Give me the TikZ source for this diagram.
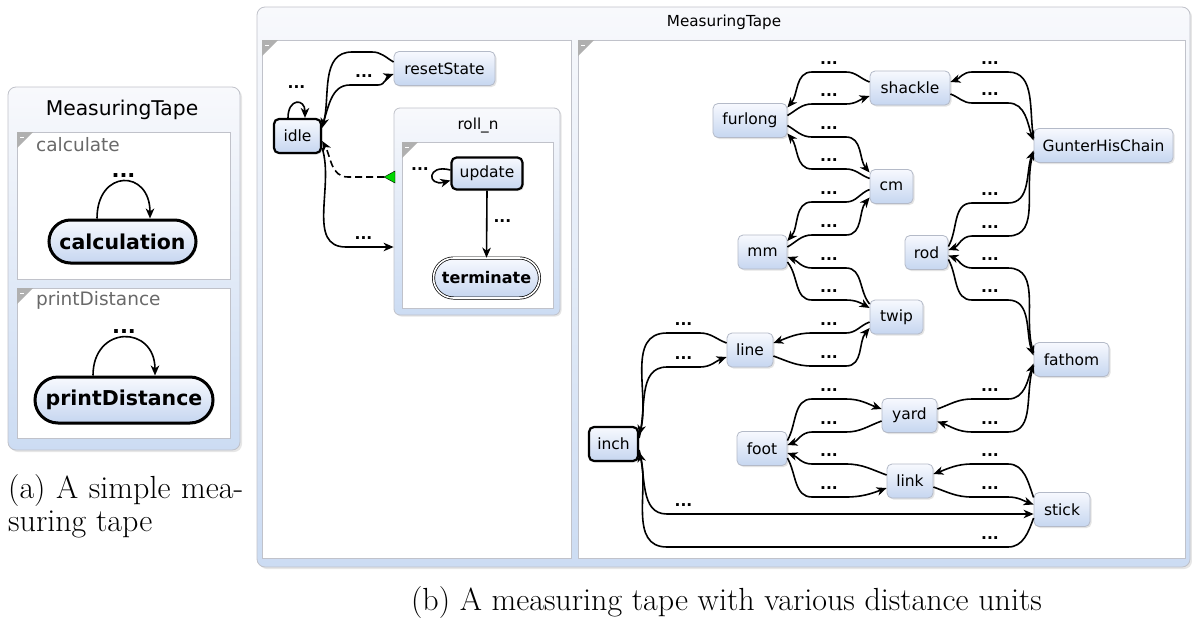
\documentclass[tikz,border=0pt]{standalone}
\usepackage{fontspec}
\newfontfamily\dv{DejaVu Sans}
\usetikzlibrary{arrows.meta,shadows,shapes.misc}
\definecolor{nodetop}{RGB}{247,249,254}
\definecolor{nodebot}{RGB}{198,214,240}
\definecolor{nodeborder}{RGB}{180,186,200}
\definecolor{regborder}{RGB}{192,194,202}
\definecolor{cornergray}{RGB}{176,176,176}
\definecolor{pantop}{RGB}{248,249,252}
\definecolor{panbot}{RGB}{204,220,243}
\definecolor{hgreen}{RGB}{0,215,0}
\definecolor{lblgray}{RGB}{105,105,105}
\newcommand\regcorner[2]{%
  \fill[cornergray] (#1,#2) -- ++(16,0) -- ++(-16,-16) -- cycle;
  \draw[white,line width=1pt] (#1+3,#2-5) -- ++(4,0);}
\tikzset{
  st/.style={rectangle, rounded corners=5pt, draw=nodeborder, line width=0.8pt,
    top color=nodetop, bottom color=nodebot, minimum height=34pt, inner sep=2pt,
    font=\dv\fontsize{15.5}{17}\selectfont,
    drop shadow={shadow xshift=1.5pt, shadow yshift=-1.5pt, opacity=0.22}},
  init/.style={draw=black, line width=2.2pt},
  tr/.style={-{Stealth[length=10pt,width=8.5pt,inset=3pt]}, line width=1.6pt, black},
  dd/.style={font=\dv\bfseries\fontsize{15.5}{17}\selectfont, inner sep=0pt, above=6.5pt},
  region/.style={draw=regborder, fill=white, line width=0.8pt},
  panel/.style={draw=regborder, rounded corners=8pt, top color=pantop, bottom color=panbot,
    line width=0.8pt, drop shadow={shadow xshift=2pt, shadow yshift=-2pt, opacity=0.2}},
}
\begin{document}
\begin{tikzpicture}[x=1pt,y=1pt]
\useasboundingbox (0,0) rectangle (1192,-619);

% ---------------- panel (a) ----------------
\draw[panel] (8,-87) rectangle (240,-450);
\node[font=\dv\fontsize{20.3}{23}\selectfont] (ttla) at (122,-110) {MeasuringTape};
\draw[region] (17,-132) rectangle (230,-279);
\regcorner{17}{-132}
\node[anchor=west, inner sep=0, text=lblgray, font=\dv\fontsize{18.5}{20}\selectfont] (lcalc) at (36,-145) {calculate};
\draw[region] (17,-288) rectangle (230,-438);
\regcorner{17}{-288}
\node[anchor=west, inner sep=0, text=lblgray, font=\dv\fontsize{18.5}{20}\selectfont] (lprint) at (36,-300) {printDistance};

\node[st, rounded rectangle, sharp corners, draw=black, line width=3pt, minimum width=151pt, minimum height=43pt,
  font=\dv\bfseries\fontsize{20.5}{22}\selectfont] (calc) at (122.5,-241.5) {calculation};
\draw[tr] ([xshift=-25.5pt]calc.north) to[out=90,in=90,looseness=2.4]
  node[font=\dv\bfseries\fontsize{21}{22}\selectfont, inner sep=0pt, above=3pt] {...} ([xshift=27.5pt]calc.north);

\node[st, rounded rectangle, sharp corners, draw=black, line width=3pt, minimum width=182pt, minimum height=46pt,
  font=\dv\bfseries\fontsize{20.5}{22}\selectfont] (pd) at (124,-400) {printDistance};
\draw[tr] ([xshift=-31pt]pd.north) to[out=90,in=90,looseness=2.1]
  node[font=\dv\bfseries\fontsize{21}{22}\selectfont, inner sep=0pt, above=3pt] {...} ([xshift=31pt]pd.north);

\node[anchor=north west, inner sep=0pt, font=\fontsize{32}{33}\selectfont, align=left] (capa) at (8,-474)
  {\makebox[235pt][s]{(a) A simple mea-}\\suring tape};

% ---------------- panel (b) ----------------
\draw[panel] (257,-7) rectangle (1190,-567);
\node[font=\dv\fontsize{15.2}{17}\selectfont] (ttlb) at (724,-22) {MeasuringTape};
\draw[region] (262,-40) rectangle (571,-558);
\regcorner{262}{-40}
\draw[region] (578,-40) rectangle (1185,-558);
\regcorner{578}{-40}

% left region
\node[rectangle, rounded corners=6pt, draw=regborder, line width=0.8pt, top color=pantop, bottom color=panbot,
  minimum width=166pt, minimum height=207pt, inner sep=0pt,
  drop shadow={shadow xshift=1.5pt, shadow yshift=-1.5pt, opacity=0.2}] (rolln) at (477,-211.5) {};
\node[font=\dv\fontsize{15.2}{17}\selectfont] (rollttl) at (478,-126) {roll\_n};
\draw[region] (402,-142) rectangle (553,-308);
\regcorner{402}{-142}

\node[st, init, minimum width=47pt] (idle) at (297.5,-136) {idle};
\node[st, minimum width=101pt] (reset) at (444.5,-68.5) {resetState};
\node[st, init, minimum width=71pt, minimum height=32pt] (update) at (487,-173.5) {update};
\node[st, rounded rectangle, sharp corners, draw=black, line width=0.7pt, double=white, double distance=1.6pt,
  minimum width=110pt, minimum height=40pt, font=\dv\bfseries\fontsize{16}{17}\selectfont] (term) at (486.5,-278) {terminate};

\coordinate (histtip) at (384,-177);
\fill[hgreen, draw=black, line width=0.4pt] (histtip) -- (395,-171) -- (395,-183) -- cycle;

\draw[tr] ([yshift=6.5pt]reset.west) to[out=150,in=0] (372,-52) -- (352,-52) to[out=180,in=75] ([yshift=8pt]idle.east);
\draw[tr] ([yshift=10pt]idle.east) to[out=70,in=180] (350,-85) -- node[dd]{...} (378,-85) to[out=0,in=200] ([yshift=-5.5pt]reset.west);
\draw[tr, dash pattern=on 7pt off 4pt] (histtip) -- (348,-177) to[out=180,in=-60] ([yshift=-5pt]idle.east);
\draw[tr] ([yshift=-12pt]idle.east) to[out=-72,in=180] (346,-247) -- node[dd]{...} (381,-247) -- ([yshift=-35.5pt]rolln.west);
\draw[tr] ([xshift=-9.5pt]idle.north) to[out=90,in=90,looseness=3] node[dd, above=7pt]{...} ([xshift=7.5pt]idle.north);
\draw[tr] ([yshift=3.5pt]update.west) to[out=165,in=195,looseness=6] node[dd, above=0pt, left=3pt]{...} ([yshift=-7pt]update.west);
\draw[tr] (update.south) -- node[dd, above=0pt, right=6pt, pos=0.55]{...} (term.north);

% right region
\node[st, minimum width=74pt] (furlong) at (750,-120.5) {furlong};
\node[st, minimum width=80pt] (shackle) at (910,-88) {shackle};
\node[st, minimum width=139pt] (gunter) at (1103.5,-145.5) {GunterHisChain};
\node[st, minimum width=43pt] (cm) at (891.5,-186.5) {cm};
\node[st, minimum width=49pt] (mm) at (762.5,-252) {mm};
\node[st, minimum width=43pt] (rod) at (926.5,-252.5) {rod};
\node[st, minimum width=53pt] (twip) at (896.5,-317) {twip};
\node[st, minimum width=46pt] (line) at (750,-350) {line};
\node[st, minimum width=75pt] (fathom) at (1071.5,-359.5) {fathom};
\node[st, minimum width=55pt] (yard) at (909.5,-415.5) {yard};
\node[st, minimum width=50pt] (foot) at (762,-448.5) {foot};
\node[st, minimum width=46pt] (link) at (910,-481) {link};
\node[st, minimum width=56pt] (stick) at (1062,-509.5) {stick};
\node[st, init, minimum width=49pt] (inch) at (613.5,-444) {inch};

% left column
\draw[tr] ([yshift=6pt]shackle.west) to[out=160,in=0] (846,-72) -- node[dd]{...} (812,-72) to[out=180,in=50] ([yshift=13pt]furlong.east);
\draw[tr] ([yshift=5pt]furlong.east) to[out=30,in=180] (812,-104) -- node[dd]{...} (846,-104) to[out=0,in=200] ([yshift=-8pt]shackle.west);
\draw[tr] ([yshift=-5pt]furlong.east) to[out=-30,in=180] (812,-137) -- node[dd]{...} (846,-137) to[out=0,in=130] ([yshift=14pt]cm.west);
\draw[tr] ([yshift=8pt]cm.west) to[out=160,in=0] (846,-169) -- node[dd]{...} (812,-169) to[out=180,in=-50] ([yshift=-13pt]furlong.east);
\draw[tr] ([yshift=-3pt]cm.west) to[out=200,in=0] (846,-202) -- node[dd]{...} (812,-202) to[out=180,in=50] ([yshift=11pt]mm.east);
\draw[tr] ([yshift=5pt]mm.east) to[out=30,in=180] (812,-235) -- node[dd]{...} (846,-235) to[out=0,in=230] ([yshift=-11pt]cm.west);
\draw[tr] ([yshift=13pt]twip.west) to[out=130,in=0] (846,-268) -- node[dd]{...} (812,-268) to[out=180,in=-20] ([yshift=-5pt]mm.east);
\draw[tr] ([yshift=-10pt]mm.east) to[out=-50,in=180] (812,-300) -- node[dd]{...} (846,-300) to[out=0,in=150] ([yshift=9pt]twip.west);
\draw[tr] ([yshift=-5pt]twip.west) to[out=200,in=0] (846,-333) -- node[dd]{...} (812,-333) to[out=180,in=20] ([yshift=7pt]line.east);
\draw[tr] ([yshift=-6pt]line.east) to[out=-20,in=180] (812,-366) -- node[dd]{...} (846,-366) to[out=0,in=230] ([yshift=-11pt]twip.west);
\draw[tr] ([yshift=8pt]foot.east) to[out=60,in=180] (812,-399) -- node[dd]{...} (846,-399) to[out=0,in=160] ([yshift=6.5pt]yard.west);
\draw[tr] ([yshift=-5.5pt]yard.west) to[out=200,in=0] (846,-432) -- node[dd]{...} (812,-432) to[out=180,in=20] ([yshift=3.5pt]foot.east);
\draw[tr] ([yshift=6pt]link.west) to[out=160,in=0] (846,-464) -- node[dd]{...} (812,-464) to[out=180,in=-20] ([yshift=-4.5pt]foot.east);
\draw[tr] ([yshift=-9.5pt]foot.east) to[out=-60,in=180] (812,-497) -- node[dd]{...} (846,-497) to[out=0,in=200] ([yshift=-7pt]link.west);

% right column
\draw[tr] ([yshift=-6pt]shackle.east) to[out=-20,in=180] (972,-103) -- node[dd]{...} (1008,-103) to[out=0,in=110] ([yshift=5pt]gunter.west);
\draw[tr] ([yshift=7pt]gunter.west) to[out=100,in=0] (1008,-72) -- node[dd]{...} (972,-72) to[out=180,in=20] ([yshift=6pt]shackle.east);
\draw[tr] ([yshift=6pt]rod.east) to[out=60,in=180] (972,-203) -- node[dd]{...} (1008,-203) to[out=0,in=250] ([yshift=-5pt]gunter.west);
\draw[tr] ([yshift=-7pt]gunter.west) to[out=250,in=0] (1008,-236) -- node[dd]{...} (972,-236) to[out=180,in=20] ([yshift=2.5pt]rod.east);
\draw[tr] ([yshift=7pt]fathom.west) to[out=110,in=0] (1008,-268) -- node[dd]{...} (972,-268) to[out=180,in=-20] ([yshift=-3pt]rod.east);
\draw[tr] ([yshift=-7pt]rod.east) to[out=-60,in=180] (972,-300) -- node[dd]{...} (1008,-300) to[out=0,in=110] ([yshift=4pt]fathom.west);
\draw[tr] ([yshift=6.5pt]yard.east) to[out=20,in=180] (972,-399) -- node[dd]{...} (1008,-399) to[out=0,in=250] ([yshift=-4pt]fathom.west);
\draw[tr] ([yshift=-6pt]fathom.west) to[out=250,in=0] (1008,-432) -- node[dd]{...} (972,-432) to[out=180,in=-20] ([yshift=-6pt]yard.east);
\draw[tr] ([yshift=12pt]stick.west) to[out=110,in=0] (1008,-464) -- node[dd]{...} (972,-464) to[out=180,in=20] ([yshift=7pt]link.east);
\draw[tr] ([yshift=-6pt]link.east) to[out=-20,in=180] (972,-497) -- node[dd]{...} (1008,-497) to[out=0,in=160] ([yshift=5pt]stick.west);

% inch column
\draw[tr] ([yshift=7pt]line.west) to[out=160,in=0] (700,-333) -- node[dd]{...} (667,-333) to[out=180,in=75] ([yshift=9pt]inch.east);
\draw[tr] ([yshift=6pt]inch.east) to[out=75,in=180] (667,-367) -- node[dd]{...} (700,-367) to[out=0,in=200] ([yshift=-7pt]line.west);
\draw[tr] ([yshift=-6pt]inch.east) to[out=-75,in=180] (667,-514) -- node[dd]{...} (700,-514) -- ([yshift=-4.5pt]stick.west);
\draw[tr] ([yshift=-8.5pt]stick.west) to[out=250,in=0] (1008,-547) -- node[dd]{...} (972,-547) -- (667,-547) to[out=180,in=-75] ([yshift=-8pt]inch.east);

\node[font=\fontsize{32}{33}\selectfont] (capb) at (726.5,-603) {(b) A measuring tape with various distance units};
\end{tikzpicture}
\end{document}
